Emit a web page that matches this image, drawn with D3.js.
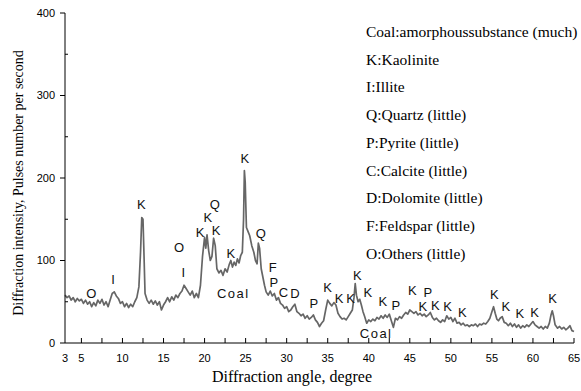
<!DOCTYPE html>
<html><head><meta charset="utf-8">
<script src="https://cdn.jsdelivr.net/npm/d3@7/dist/d3.min.js"></script>
<style>body{margin:0;background:#fff}svg{display:block}</style>
</head><body>
<svg id="c" width="581" height="391"></svg>
<script>
// diffraction trace: [angle (deg), intensity (pulses/s)]
const trace = [
[3.0,58],[3.25,55],[3.5,57],[3.75,52],[4.0,55],[4.25,50],[4.5,54],[4.75,51],[5.0,53],[5.25,48],[5.5,52],[5.75,47],
[6.0,50],[6.25,44],[6.5,49],[6.75,45],[7.0,52],[7.25,48],[7.5,53],[7.75,46],[8.0,50],[8.25,44],[8.5,52],[8.75,60],
[9.0,62],[9.25,57],[9.5,54],[9.75,48],[10.0,50],[10.25,44],[10.5,48],[10.75,43],[11.0,47],[11.25,44],[11.5,50],[11.75,55],
[12.0,68],[12.2,110],[12.35,152],[12.5,150],[12.6,115],[12.75,60],[13.0,52],[13.25,48],[13.5,52],[13.75,47],[14.0,51],
[14.25,46],[14.5,50],[14.75,40],[15.0,46],[15.25,50],[15.5,55],[15.75,50],[16.0,56],[16.25,52],[16.5,58],[16.75,55],
[17.0,60],[17.25,63],[17.5,70],[17.75,66],[18.0,62],[18.25,58],[18.5,63],[18.75,55],[19.0,60],[19.25,55],[19.5,70],
[19.75,105],[20.0,128],[20.15,115],[20.3,131],[20.5,112],[20.7,100],[20.9,105],[21.1,127],[21.3,118],[21.5,90],
[21.75,85],[22.0,88],[22.25,82],[22.5,90],[22.75,86],[23.0,95],[23.2,100],[23.4,92],[23.6,98],[23.8,94],[24.0,102],
[24.2,97],[24.4,106],[24.6,110],[24.75,150],[24.85,209],[24.95,195],[25.1,140],[25.3,135],[25.5,130],[25.75,118],
[26.0,110],[26.2,100],[26.4,96],[26.55,121],[26.7,115],[26.9,90],[27.1,80],[27.3,70],[27.5,62],[27.75,58],[28.0,63],
[28.25,57],[28.5,60],[28.75,52],[29.0,55],[29.25,48],[29.5,46],[29.75,42],[30.0,44],[30.25,38],[30.5,40],[30.75,44],
[31.0,47],[31.25,38],[31.5,36],[31.75,33],[32.0,35],[32.25,30],[32.5,33],[32.75,29],[33.0,31],[33.25,34],[33.5,28],
[33.75,25],[34.0,20],[34.25,24],[34.5,27],[34.75,40],[35.0,52],[35.25,48],[35.5,45],[35.75,49],[36.0,46],[36.25,36],
[36.5,32],[36.75,29],[37.0,30],[37.25,28],[37.5,32],[37.75,36],[38.0,40],[38.2,55],[38.35,72],[38.5,58],[38.7,50],
[38.9,53],[39.1,46],[39.3,38],[39.5,32],[39.75,24],[40.0,28],[40.25,26],[40.5,29],[40.75,27],[41.0,31],[41.25,29],
[41.5,33],[41.75,30],[42.0,34],[42.25,31],[42.5,35],[42.75,27],[43.0,19],[43.25,30],[43.5,28],[43.75,32],[44.0,30],
[44.25,34],[44.5,37],[44.75,35],[45.0,40],[45.25,38],[45.5,36],[45.75,38],[46.0,34],[46.25,36],[46.5,33],[46.75,35],
[47.0,32],[47.25,34],[47.5,37],[47.75,31],[48.0,28],[48.25,30],[48.5,27],[48.75,25],[49.0,28],[49.25,26],[49.5,33],
[49.75,29],[50.0,31],[50.25,26],[50.5,30],[50.75,24],[51.0,25],[51.25,22],[51.5,24],[51.75,21],[52.0,22],[52.25,20],
[52.5,22],[52.75,21],[53.0,23],[53.25,20],[53.5,23],[53.75,22],[54.0,24],[54.25,23],[54.5,26],[54.75,30],[55.0,38],
[55.2,44],[55.4,36],[55.6,29],[55.8,27],[56.0,30],[56.25,32],[56.5,25],[56.75,24],[57.0,21],[57.25,24],[57.5,20],
[57.75,23],[58.0,19],[58.25,22],[58.5,18],[58.75,21],[59.0,19],[59.25,22],[59.5,20],[59.75,23],[60.0,26],[60.25,22],
[60.5,20],[60.75,18],[61.0,20],[61.25,17],[61.5,20],[61.75,18],[62.0,24],[62.2,34],[62.35,39],[62.5,33],[62.7,22],
[63.0,18],[63.25,20],[63.5,17],[63.75,19],[64.0,16],[64.25,18],[64.5,21],[64.75,15],[65.0,14]
];
// peak labels: [text, angle, intensity]
const peakLabels = [
["O",6.2,60],["I",8.85,77],["K",12.3,168],["O",16.9,116],["I",17.4,86],["K",19.45,134],["K",20.4,152],
["Q",21.25,168],["K",21.4,137],["K",23.2,109],["Coal",23.5,60],["K",24.9,224],["Q",26.85,133],["F",28.3,92],
["P",28.45,74],["C",29.6,62],["D",31.0,60],["P",33.3,48],["K",35.0,67],["K",36.4,54],["K",37.8,54],["K",38.6,82],
["K",39.9,62],["Coal",40.9,12],["K",41.7,50],["P",43.3,46],["K",45.3,64],["K",46.6,44],["P",47.2,62],["K",48.1,46],
["K",49.6,44],["K",51.4,37],["K",55.3,59],["K",56.7,45],["K",58.4,36],["K",60.2,37],["K",62.4,54]
];
const legendLines = [
"Coal:amorphoussubstance (much)","K:Kaolinite","I:Illite","Q:Quartz (little)","P:Pyrite (little)",
"C:Calcite (little)","D:Dolomite (little)","F:Feldspar (little)","O:Others (little)"
];
const xTickLabels = [3,5,10,15,20,25,30,35,40,45,50,55,60,65];
const xMinorTicks = [5,7.5,10,12.5,15,17.5,20,22.5,25,27.5,30,32.5,35,37.5,40,42.5,45,47.5,50,52.5,55,57.5,60,62.5,65];
const yTickLabels = [0,100,200,300,400];
const yMinorTicks = [50,150,250,350];

const svg = d3.select("#c");
const x = d3.scaleLinear().domain([3,65]).range([65,574]);
const y = d3.scaleLinear().domain([0,400]).range([343,13]);
const sans = "Liberation Sans, Arial, sans-serif";
const serif = "Liberation Serif, Times New Roman, serif";

// trace
svg.append("path").datum(trace)
  .attr("d", d3.line().x(d=>x(d[0])).y(d=>y(d[1])))
  .attr("fill","none").attr("stroke","#666").attr("stroke-width",1.7).attr("stroke-linejoin","round");

// x axis
const gx = svg.append("g").attr("transform","translate(0,343)");
gx.append("line").attr("x1",65).attr("x2",574).attr("stroke","#000");
gx.selectAll(".t").data(xMinorTicks).join("line")
  .attr("x1",d=>x(d)).attr("x2",d=>x(d)).attr("y1",0).attr("y2",-5).attr("stroke","#000");
gx.selectAll("text").data(xTickLabels).join("text")
  .attr("x",d=>x(d)).attr("y",19).attr("text-anchor","middle")
  .attr("font-family",sans).attr("font-size",11).text(d=>d);

// y axis
const gy = svg.append("g").attr("transform","translate(65,0)");
gy.append("line").attr("y1",13).attr("y2",343).attr("stroke","#000");
gy.selectAll(".M").data(yTickLabels).join("line")
  .attr("y1",d=>y(d)).attr("y2",d=>y(d)).attr("x1",0).attr("x2",-5).attr("stroke","#000");
gy.selectAll(".m").data(yMinorTicks).join("line")
  .attr("y1",d=>y(d)).attr("y2",d=>y(d)).attr("x1",0).attr("x2",3).attr("stroke","#000");
gy.selectAll("text").data(yTickLabels).join("text")
  .attr("x",-10).attr("y",d=>y(d)).attr("dy","0.35em").attr("text-anchor","end")
  .attr("font-family",sans).attr("font-size",11).text(d=>d);

// axis titles
svg.append("text").attr("x",292).attr("y",382).attr("text-anchor","middle")
  .attr("font-family",serif).attr("font-size",16).text("Diffraction angle, degree");
svg.append("text").attr("transform","translate(23,183) rotate(-90)").attr("text-anchor","middle")
  .attr("font-family",serif).attr("font-size",14).text("Diffraction intensity, Pulses number per second");

// peak labels
svg.selectAll(".pl").data(peakLabels).join("text")
  .attr("x",d=>x(d[1])).attr("y",d=>y(d[2])).attr("dy","0.36em").attr("text-anchor","middle")
  .attr("font-family",sans).attr("font-size",13).attr("fill","#111")
  .attr("letter-spacing",d=>d[0]==="Coal"?1.5:0).text(d=>d[0]);

// legend
svg.selectAll(".lg").data(legendLines).join("text")
  .attr("x",366).attr("y",(d,i)=>37+i*27.7)
  .attr("font-family",serif).attr("font-size",15.5).attr("fill","#000").text(d=>d);
</script>
</body></html>
